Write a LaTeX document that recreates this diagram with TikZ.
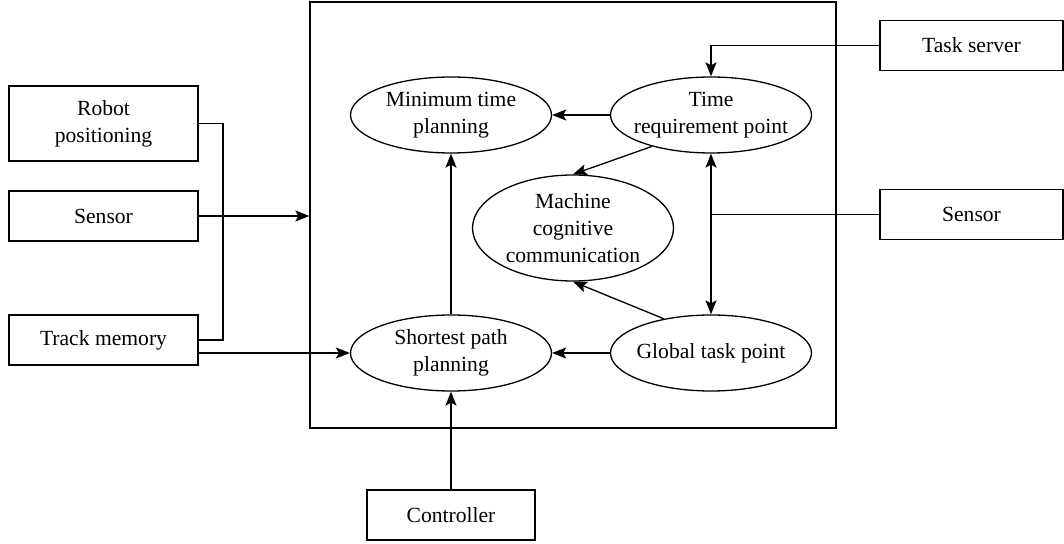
\documentclass[tikz,border=0pt]{standalone}
\usepackage{fontspec}
\setmainfont{Liberation Serif}
\usetikzlibrary{arrows.meta,positioning,shapes.geometric}

\begin{document}
\begin{tikzpicture}[x=0.5pt,y=-0.5pt,line width=0.65pt,
		font=\fontsize{10.8}{13.5}\selectfont,
		box/.style={draw,rectangle,align=center,inner sep=0pt,minimum width=94.5pt,minimum height=25pt},
		oval/.style={draw,ellipse,align=center,inner xsep=-6pt,inner ysep=0pt,minimum width=100.5pt,minimum height=38pt},
		arr/.style={-{Stealth[length=7pt,width=5.5pt,inset=1.5pt]}},
		arrboth/.style={{Stealth[length=7pt,width=5.5pt,inset=1.5pt]}-{Stealth[length=7pt,width=5.5pt,inset=1.5pt]}}]
	\useasboundingbox (0,0) rectangle (1064,544);
	% outer boxes
	\node[box,minimum height=37.5pt] (rpos) at (103.5,123.5) {Robot\\positioning};
	\node[box] (lsens) at (103.5,216) {Sensor};
	\node[box] (track) at (103.5,340) {Track memory};
	\node[box,minimum width=91.5pt] (tserv) at (971.5,45.5) {Task server};
	\node[box,minimum width=91.5pt] (rsens) at (971.5,214.5) {Sensor};
	\node[box,minimum width=84pt] (ctrl) at (451,515) {Controller};
	% frame and planning nodes
	\node[draw,inner sep=0pt,minimum width=263pt,minimum height=213pt] (frame) at (573,215) {};
	\node[oval] (mintime) at (451,115) {Minimum time\\planning};
	\node[oval] (timereq) at (711,115) {Time\\requirement point};
	\node[oval,minimum height=53pt] (mcc) at (573,228) {Machine\\cognitive\\communication};
	\node[oval] (short) at (451,353) {Shortest path\\planning};
	\node[oval] (global) at (711,353) {Global task point};
	% connectors
	\coordinate (bus) at (223,216);
	\draw (rpos.east) -| (bus) |- (track.east);
	\draw[arr] (lsens.east) -- (lsens.east -| frame.west);
	\draw[arr] (track.east |- short.west) -- (short.west);
	\draw[arr] (tserv.west) -| (timereq.north);
	\draw (rsens.west) -- (rsens.west -| timereq.south);
	\draw[arrboth] (timereq.south) -- (global.north);
	\draw[arr] (timereq.west) -- (mintime.east);
	\draw[arr] (timereq.208) -- (mcc.north);
	\draw[arr] (global.144) -- (mcc.south);
	\draw[arr] (global.west) -- (short.east);
	\draw[arr] (short.north) -- (mintime.south);
	\draw[arr] (ctrl.north) -- (short.south);
\end{tikzpicture}
\end{document}
